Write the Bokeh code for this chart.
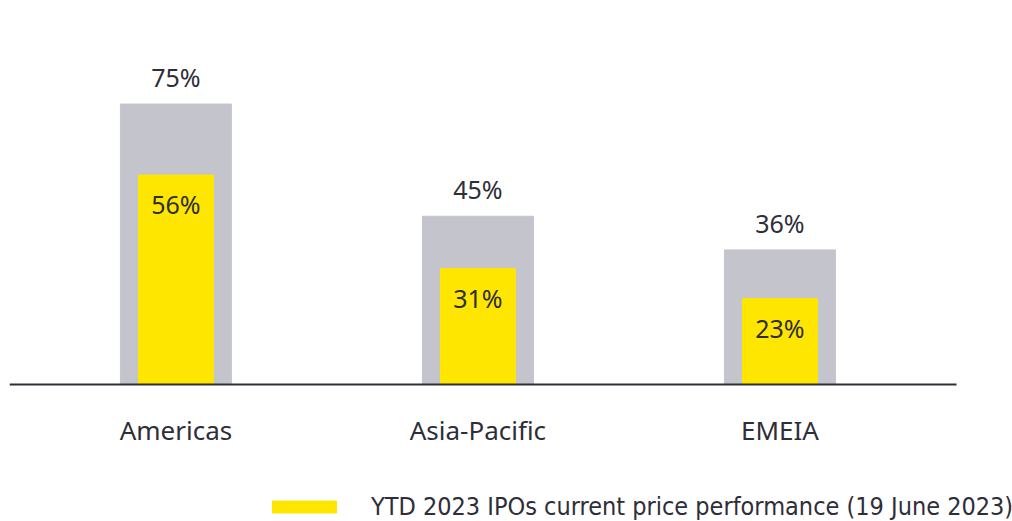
from bokeh.plotting import figure
from bokeh.models import ColumnDataSource, Range1d, FixedTicker, Legend, LegendItem
from bokeh.core.properties import value
from bokeh.embed import file_html
from bokeh.resources import INLINE

categories = ["Americas", "Asia-Pacific", "EMEIA"]
first_values = [75, 45, 36]
current_values = [56, 31, 23]
legend_label = "YTD 2023 IPOs current price performance (19 June 2023)"

GRAY = "#c4c4cd"
YELLOW = "#ffe600"
DARK = "#2e2e38"

xs = list(range(len(categories)))
src = ColumnDataSource(dict(
    x=xs, cat=categories, g=first_values, y=current_values,
    gl=[f"{v}%" for v in first_values], yl=[f"{v}%" for v in current_values],
))

p = figure(width=1012, height=521, output_backend="svg", toolbar_location=None,
           x_range=Range1d(-0.551, 2.770), y_range=Range1d(-36.64, 102.7),
           min_border_left=9, min_border_right=0, min_border_top=0, min_border_bottom=0)
p.outline_line_color = None
p.grid.visible = False
p.yaxis.visible = False

p.vbar(x="x", top="g", width=0.3675, bottom=0, source=src, color=GRAY)
yr = p.vbar(x="x", top="y", width=0.248, bottom=0, source=src, color=YELLOW)

p.text(x="x", y="g", text="gl", source=src, text_align="center", text_baseline="middle",
       y_offset=-27, text_font=value("Noto Sans"), text_font_size="25px", text_color=DARK)
p.text(x="x", y="y", text="yl", source=src, text_align="center", text_baseline="middle",
       y_offset=29, text_font=value("Noto Sans"), text_font_size="25px", text_color=DARK)

ax = p.xaxis[0]
ax.fixed_location = 0
ax.bounds = (-0.551, 2.584)
ax.ticker = FixedTicker(ticks=xs)
ax.major_label_overrides = {i: c for i, c in zip(xs, categories)}
ax.major_tick_line_color = None
ax.minor_tick_line_color = None
ax.axis_line_color = DARK
ax.axis_line_width = 2
ax.major_label_standoff = 21
ax.major_label_text_font = "Noto Sans"
ax.major_label_text_font_size = "26px"
ax.major_label_text_font_style = "normal"
ax.major_label_text_color = DARK

legend = Legend(items=[LegendItem(label=legend_label, renderers=[yr])],
                location=(255, 0), padding=0, margin=0, border_line_color=None,
                background_fill_alpha=0, glyph_width=80, glyph_height=15, label_height=29,
                label_standoff=27, label_text_font="DejaVu Sans Condensed",
                label_text_font_size="25px", label_text_color=DARK)
p.add_layout(legend)

open("out.html", "w").write(file_html(p, INLINE))
